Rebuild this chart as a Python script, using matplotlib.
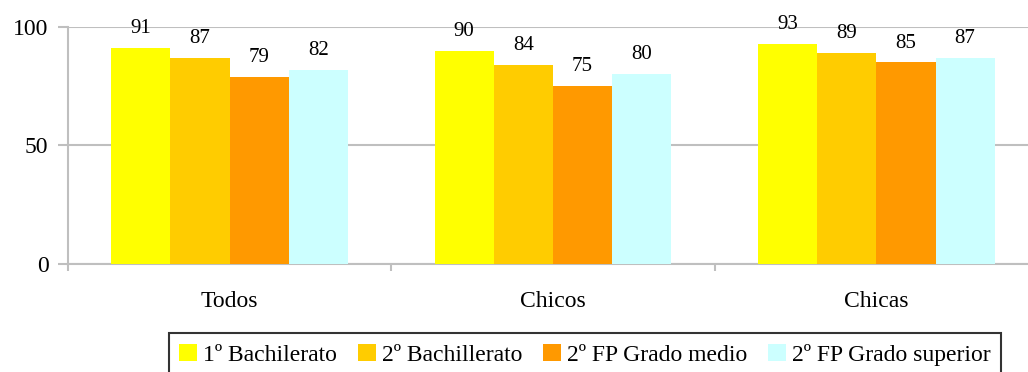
import numpy as np
import matplotlib
matplotlib.use("Agg")
import matplotlib.pyplot as plt
from matplotlib.ticker import FixedLocator

plt.rcParams["font.family"] = ["Liberation Serif", "DejaVu Serif"]

categorias = ["Todos", "Chicos", "Chicas"]
series = ["1º Bachilerato", "2º Bachillerato", "2º FP Grado medio", "2º FP Grado superior"]
bach1 = [91, 90, 93]
bach2 = [87, 84, 89]
fp_medio = [79, 75, 85]
fp_superior = [82, 80, 87]
valores = [bach1, bach2, fp_medio, fp_superior]
colores = ["#FFFF00", "#FFCC00", "#FF9900", "#CCFFFF"]
GRIS = "#BFBFBF"

W, H = 1028, 372
fig = plt.figure(figsize=(W / 100, H / 100), dpi=100)
ax = fig.add_axes([68 / W, (H - 263.5) / H, 970 / W, 236.5 / H])

x = np.arange(len(categorias))
w = 0.183
for i, (vals, c, lab) in enumerate(zip(valores, colores, series)):
    pos = x + (i - 1.5) * w
    ax.bar(pos, vals, w, color=c, label=lab, zorder=3)
    for xi, v in zip(pos, vals):
        ax.annotate(f"{v}", (xi, v), xytext=(0, 14), textcoords="offset points",
                    ha="center", va="center", fontsize=15, zorder=4)

ax.set_xlim(-0.5, 2.5)
ax.set_ylim(0, 100)
ax.set_yticks([0, 50, 100])
ax.tick_params(axis="y", labelsize=17, length=7, width=1.5, color=GRIS, pad=7)
ax.set_xticks(x)
ax.set_xticklabels(categorias, fontsize=17)
ax.xaxis.set_minor_locator(FixedLocator([-0.5, 0.5, 1.5, 2.5]))
ax.tick_params(axis="x", which="major", length=0, pad=20)
ax.tick_params(axis="x", which="minor", length=5, width=1.5, color=GRIS)
ax.grid(axis="y", color=GRIS, linewidth=1.5, zorder=0)
for s in ["top", "right"]:
    ax.spines[s].set_visible(False)
for s in ["left", "bottom"]:
    ax.spines[s].set_color(GRIS)
    ax.spines[s].set_linewidth(1.5)

leg = ax.legend(loc="upper center", bbox_to_anchor=(585 / W, (H - 333) / H),
                bbox_transform=fig.transFigure, ncol=4, fontsize=17,
                frameon=True, fancybox=False, edgecolor="black",
                handlelength=0.75, handleheight=0.75, handletextpad=0.25,
                columnspacing=0.9, borderpad=0.45, borderaxespad=0)
leg.get_frame().set_linewidth(1.5)

fig.savefig("out.png", dpi=100)
